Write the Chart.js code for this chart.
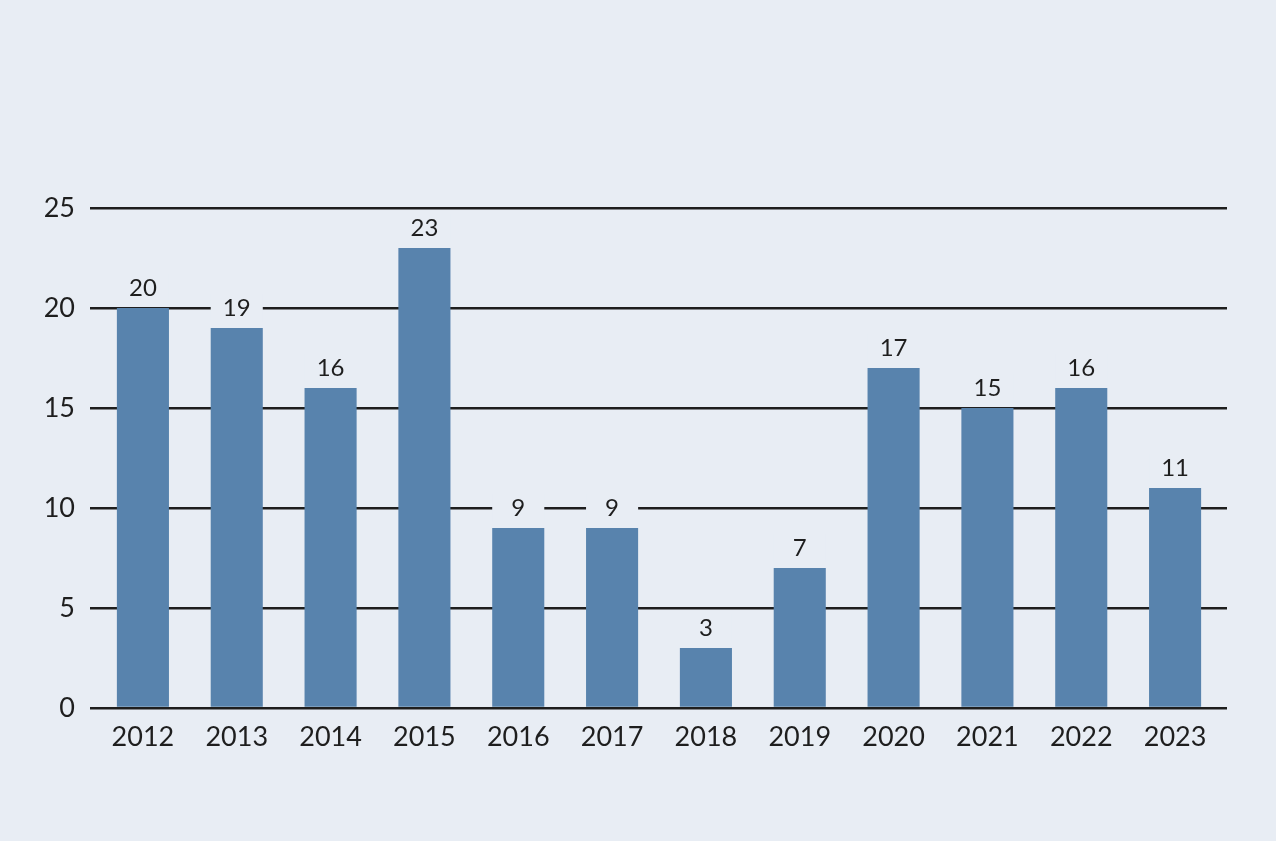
<!DOCTYPE html>
<html>
<head>
<meta charset="utf-8">
<script src="https://cdn.jsdelivr.net/npm/chart.js@4"></script>
<style>
	html, body { margin: 0; padding: 0; background: #e8edf4; }
	#wrap { width: 1276px; height: 841px; }
</style>
</head>
<body>
<div id="wrap"><canvas id="barChart" width="1276" height="841"></canvas></div>
<script>
// 데이터
const years = ['2012', '2013', '2014', '2015', '2016', '2017', '2018', '2019', '2020', '2021', '2022', '2023'];
const counts = [20, 19, 16, 23, 9, 9, 3, 7, 17, 15, 16, 11];
const yTicks = [0, 5, 10, 15, 20, 25];

const BG = '#e8edf4';
const BAR = '#5883ad';
const INK = '#1e1e1e';
const FONT = 'Lato, "Noto Sans", sans-serif';

// 막대 위 값 표시 (배경색 박스로 격자선 가림)
const valueLabels = {
	id: 'valueLabels',
	afterDatasetsDraw: function(chart) {
		const ctx = chart.ctx;
		const meta = chart.getDatasetMeta(0);
		ctx.save();
		ctx.font = '24px ' + FONT;
		ctx.textAlign = 'center';
		ctx.textBaseline = 'middle';
		meta.data.forEach(function(bar, i) {
			const y = bar.y - 20;
			ctx.fillStyle = BG;
			ctx.fillRect(bar.x - bar.width / 2, y - 14, bar.width, 28);
			ctx.fillStyle = INK;
			ctx.fillText(String(counts[i]), bar.x, y);
		});
		ctx.restore();
	}
};

function fixedTicks(scale) {
	scale.ticks = yTicks.map(function(v) { return { value: v }; });
}

new Chart(document.getElementById('barChart').getContext('2d'), {
	type: 'bar',
	data: {
		labels: years,
		datasets: [{
			data: counts,
			backgroundColor: BAR,
			borderWidth: 0,
			categoryPercentage: 1,
			barPercentage: 0.555
		}]
	},
	options: {
		responsive: false,
		animation: false,
		layout: { padding: { top: 208, right: 49, bottom: 0, left: 0 } },
		plugins: {
			legend: { display: false },
			tooltip: { enabled: false }
		},
		scales: {
			x: {
				grid: { display: false, drawTicks: false },
				border: { display: false },
				ticks: { color: INK, font: { family: FONT, size: 27 }, padding: 13, maxRotation: 0 },
				afterFit: function(scale) { scale.height = 133; }
			},
			y: {
				min: 0,
				max: 25,
				afterBuildTicks: fixedTicks,
				grid: { color: INK, lineWidth: 2.5, drawTicks: true, tickLength: 6 },
				border: { display: false },
				ticks: { color: INK, font: { family: FONT, size: 27 }, padding: 15 },
				afterFit: function(scale) { scale.width = 96; }
			},
			// 오른쪽 격자선 연장용
			y2: {
				position: 'right',
				min: 0,
				max: 25,
				afterBuildTicks: fixedTicks,
				grid: { color: INK, lineWidth: 2.5, drawOnChartArea: false, drawTicks: true, tickLength: 5 },
				border: { display: false },
				ticks: { display: false },
				afterFit: function(scale) { scale.width = 5; }
			}
		}
	},
	plugins: [valueLabels]
});
</script>
</body>
</html>
